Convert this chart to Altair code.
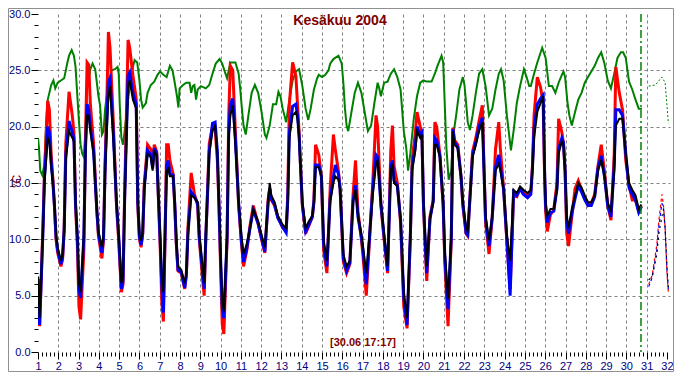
import altair as alt
import pandas as pd

# ---------------- data ----------------
# shared time axis (day of month, fractional) for the three outdoor series
t = [
    1.00, 1.08, 1.24, 1.32, 1.48, 1.56, 1.65, 1.73, 1.81, 1.89, 1.97,
    2.13, 2.21, 2.29, 2.37, 2.53, 2.69, 2.77, 2.85, 2.94,
    3.02, 3.10, 3.26, 3.34, 3.42, 3.50, 3.58, 3.74, 3.90, 3.98,
    4.15, 4.23, 4.31, 4.39, 4.47, 4.55, 4.71, 4.87, 4.98,
    5.11, 5.19, 5.27, 5.44, 5.52, 5.68, 5.84, 5.92,
    6.00, 6.08, 6.16, 6.24, 6.40, 6.56, 6.65, 6.73, 6.85,
    7.02, 7.10, 7.18, 7.26, 7.34, 7.42, 7.50, 7.66, 7.74, 7.82, 7.90,
    8.06, 8.23, 8.31, 8.39, 8.55, 8.71, 8.87, 8.95,
    9.11, 9.19, 9.27, 9.44, 9.60, 9.73, 9.84, 9.92,
    10.00, 10.08, 10.16, 10.32, 10.40, 10.48, 10.60, 10.73, 10.89,
    11.02, 11.13, 11.29, 11.45, 11.61, 11.85,
    12.02, 12.18, 12.34, 12.42, 12.50, 12.66, 12.82,
    13.06, 13.23, 13.31, 13.39, 13.55, 13.71, 13.79, 13.87, 13.95,
    14.03, 14.19, 14.35, 14.52, 14.60, 14.68, 14.84, 14.97,
    15.08, 15.24, 15.40, 15.56, 15.65, 15.81, 15.89,
    16.05, 16.21, 16.37, 16.53, 16.65, 16.77, 16.94,
    17.02, 17.18, 17.34, 17.50, 17.66, 17.74, 17.90,
    18.06, 18.23, 18.39, 18.47, 18.55, 18.71, 18.87,
    19.03, 19.19, 19.35, 19.44, 19.60, 19.68, 19.84, 19.92,
    20.00, 20.08, 20.16, 20.32, 20.48, 20.56, 20.65, 20.81, 20.97,
    21.05, 21.21, 21.37, 21.45, 21.53, 21.69, 21.85, 21.94,
    22.10, 22.18, 22.42, 22.58, 22.74, 22.90,
    23.06, 23.23, 23.39, 23.55, 23.71, 23.79, 23.95,
    24.11, 24.27, 24.44, 24.60, 24.76, 24.92,
    25.13, 25.29, 25.37, 25.45, 25.61, 25.77, 25.90, 25.97,
    26.02, 26.10, 26.26, 26.42, 26.58, 26.66, 26.82, 26.90, 26.98,
    27.06, 27.15, 27.31, 27.47, 27.63, 27.79, 27.95,
    28.11, 28.27, 28.44, 28.60, 28.76, 28.92,
    29.08, 29.24, 29.40, 29.48, 29.65, 29.81, 29.97,
    30.13, 30.29, 30.45, 30.61, 30.74,
]
black = [
    6.7, 3.0, 10.4, 15.0, 19.0, 18.7, 16.4, 15.0, 13.3, 10.4, 9.3,
    8.1, 8.7, 10.7, 17.0, 19.6, 19.0, 18.7, 13.3, 10.4,
    6.1, 5.3, 10.4, 17.6, 21.0, 21.0, 19.6, 17.6, 12.7, 10.7,
    9.3, 10.4, 16.1, 19.6, 22.7, 23.6, 19.0, 13.3, 10.4,
    6.1, 6.7, 13.3, 23.6, 24.1, 22.4, 21.6, 13.3,
    10.4, 9.9, 10.7, 14.4, 17.6, 17.3, 16.1, 17.9, 17.4,
    10.4, 6.7, 5.3, 10.4, 15.9, 16.4, 15.6, 15.6, 13.3, 9.9, 7.6,
    7.3, 6.1, 7.0, 10.4, 13.9, 13.7, 13.3, 10.4,
    7.6, 6.1, 10.4, 17.6, 19.6, 20.1, 17.6, 13.3,
    8.7, 4.7, 3.6, 10.4, 19.0, 21.0, 21.9, 18.4, 13.3,
    10.4, 8.7, 9.6, 11.0, 12.7, 11.6,
    10.4, 9.3, 13.3, 15.0, 13.9, 13.3, 12.1,
    11.3, 11.0, 13.3, 19.0, 21.0, 21.3, 20.7, 19.0, 16.1,
    13.3, 11.0, 11.6, 12.1, 13.3, 16.4, 16.4, 15.6,
    9.9, 8.1, 13.3, 15.0, 15.6, 15.3, 14.4,
    8.7, 7.6, 8.1, 13.3, 14.4, 12.1, 10.4,
    9.3, 7.0, 10.4, 13.9, 16.7, 17.0, 13.3,
    10.4, 7.6, 16.1, 16.7, 15.0, 14.7, 11.9,
    5.3, 3.0, 10.4, 16.1, 17.9, 19.6, 19.0, 19.3,
    13.3, 10.4, 7.6, 11.9, 13.3, 18.4, 18.4, 17.3, 13.3,
    9.0, 4.7, 10.4, 19.6, 18.4, 18.1, 15.6, 13.3,
    11.0, 10.7, 17.3, 18.4, 19.6, 20.4,
    12.1, 9.9, 12.1, 16.1, 16.7, 16.1, 14.4,
    10.4, 8.1, 14.4, 14.1, 14.7, 14.4,
    14.1, 14.4, 16.1, 19.0, 21.3, 22.1, 22.7, 16.1,
    13.3, 12.1, 12.7, 12.7, 14.4, 17.6, 18.7, 18.4, 16.1,
    12.1, 11.0, 12.7, 13.9, 15.0, 14.6, 13.9,
    13.3, 13.3, 13.9, 16.1, 17.0, 15.6,
    13.3, 12.4, 16.1, 20.1, 20.7, 20.7, 17.6,
    15.0, 14.4, 13.9, 12.7, 13.1,
]
red = [
    6.0, 2.3, 11.0, 16.0, 22.3, 21.5, 17.5, 15.5, 13.0, 10.0, 8.8,
    7.6, 8.2, 11.0, 18.5, 23.1, 21.0, 19.5, 13.0, 9.5,
    4.0, 2.9, 9.0, 19.0, 25.7, 25.5, 22.0, 18.5, 12.5, 10.3,
    8.3, 10.0, 17.0, 22.0, 28.4, 27.0, 20.5, 13.0, 9.8,
    5.3, 6.0, 14.0, 27.7, 27.0, 24.5, 22.5, 13.0,
    10.0, 9.3, 10.5, 15.0, 18.4, 18.0, 16.5, 18.4, 17.8,
    9.5, 4.5, 2.7, 10.0, 18.4, 18.4, 17.0, 15.8, 13.0, 9.5, 7.2,
    7.0, 5.6, 6.8, 11.0, 15.9, 14.0, 13.0, 10.0,
    6.5, 5.0, 10.0, 18.5, 20.0, 19.8, 17.0, 13.0,
    7.5, 2.5, 1.6, 10.0, 21.0, 25.4, 25.0, 19.5, 13.0,
    9.8, 7.6, 9.0, 11.2, 13.0, 11.4,
    10.0, 8.8, 13.5, 14.5, 13.5, 13.0, 12.0,
    11.0, 10.8, 14.0, 22.0, 25.7, 24.5, 22.0, 19.5, 16.0,
    13.0, 10.5, 11.2, 12.0, 13.5, 18.4, 17.5, 15.5,
    9.0, 7.0, 14.5, 19.3, 18.0, 16.0, 14.5,
    8.0, 7.0, 7.8, 14.0, 17.0, 12.5, 10.0,
    8.5, 5.0, 10.0, 15.0, 21.0, 20.0, 13.0,
    10.0, 7.0, 18.0, 20.1, 16.5, 15.0, 11.5,
    4.0, 2.1, 10.0, 17.0, 19.5, 21.3, 20.0, 19.5,
    13.0, 9.5, 6.3, 12.0, 13.5, 20.4, 20.0, 17.5, 13.0,
    8.0, 2.3, 10.0, 19.9, 18.8, 18.4, 15.5, 13.0,
    10.5, 10.3, 17.8, 19.0, 20.5, 21.9,
    11.5, 8.7, 12.0, 18.0, 20.4, 18.0, 14.5,
    9.8, 5.6, 14.0, 13.8, 14.5, 14.2,
    13.8, 14.2, 16.5, 21.0, 24.4, 23.5, 22.0, 15.5,
    12.5, 10.7, 12.2, 12.6, 15.0, 20.7, 19.5, 18.5, 16.0,
    10.5, 9.4, 12.0, 14.5, 15.2, 14.4, 13.6,
    13.0, 13.2, 14.0, 16.5, 18.4, 16.0,
    13.0, 11.7, 17.5, 25.3, 23.0, 21.5, 17.0,
    14.8, 13.5, 13.5, 12.5, 13.0,
]
blue = [
    6.5, 2.4, 10.5, 15.5, 20.0, 19.5, 16.8, 15.2, 13.0, 10.2, 9.0,
    7.8, 8.4, 10.8, 17.5, 20.5, 19.5, 19.0, 13.2, 10.2,
    5.5, 4.8, 10.2, 18.0, 22.0, 21.5, 20.0, 17.8, 12.6, 10.5,
    8.8, 10.2, 16.5, 20.5, 24.0, 24.3, 19.5, 13.2, 10.2,
    5.6, 6.3, 13.5, 24.5, 24.8, 23.0, 22.0, 13.2,
    10.2, 9.5, 10.5, 14.6, 17.9, 17.5, 16.3, 18.1, 17.6,
    10.0, 6.0, 3.5, 10.2, 16.5, 17.0, 15.8, 15.7, 13.2, 9.6, 7.3,
    7.1, 5.7, 6.8, 10.5, 14.2, 13.8, 13.2, 10.2,
    7.2, 5.6, 10.2, 17.8, 20.3, 20.4, 17.8, 13.1,
    8.2, 4.0, 3.0, 10.2, 19.5, 22.0, 22.5, 18.8, 13.2,
    10.0, 8.0, 9.2, 11.0, 12.6, 11.4,
    10.1, 8.9, 13.2, 14.5, 13.6, 13.1, 11.9,
    11.1, 10.6, 13.5, 19.5, 21.8, 22.0, 21.0, 19.2, 16.1,
    13.1, 10.7, 11.3, 12.0, 13.3, 16.6, 16.6, 15.6,
    9.5, 7.6, 13.6, 15.5, 16.6, 15.8, 14.5,
    8.3, 7.2, 7.9, 13.4, 14.8, 12.0, 10.2,
    9.0, 6.0, 10.2, 14.5, 17.5, 17.3, 13.2,
    10.2, 7.2, 16.5, 17.0, 15.2, 14.8, 11.8,
    4.8, 2.4, 10.2, 16.4, 18.3, 20.0, 19.3, 19.5,
    13.1, 10.0, 7.0, 11.8, 13.4, 19.0, 18.8, 17.4, 13.2,
    8.5, 3.8, 10.2, 19.8, 18.6, 18.2, 15.6, 13.2,
    10.6, 10.4, 17.5, 18.6, 20.0, 20.8,
    11.8, 9.4, 12.0, 16.4, 17.5, 16.5, 14.4,
    10.0, 5.0, 14.2, 13.9, 14.5, 14.0,
    13.7, 14.0, 16.3, 19.8, 22.0, 22.5, 22.8, 16.0,
    13.0, 11.5, 12.4, 12.5, 14.5, 18.0, 19.0, 18.6, 16.1,
    11.5, 10.5, 12.3, 13.6, 14.8, 14.2, 13.5,
    13.0, 13.0, 13.8, 16.3, 17.4, 15.6,
    13.0, 12.0, 16.5, 21.5, 21.5, 21.0, 17.6,
    14.6, 14.0, 13.5, 12.4, 12.9,
]

# indoor (green) series
green_t = [
    1.00, 1.05, 1.11, 1.21, 1.32, 1.40, 1.48, 1.56, 1.65, 1.76, 1.85, 1.97,
    2.13, 2.29, 2.37, 2.45, 2.53, 2.66, 2.77, 2.85, 2.94,
    3.02, 3.10, 3.18, 3.26, 3.34, 3.42, 3.58, 3.69, 3.82, 3.90, 3.98,
    4.06, 4.15, 4.23, 4.31, 4.47, 4.63, 4.79, 4.92, 4.98,
    5.03, 5.11, 5.19, 5.27, 5.44, 5.60, 5.76, 5.89,
    6.00, 6.08, 6.16, 6.32, 6.40, 6.56, 6.73, 6.89,
    7.02, 7.18, 7.34, 7.50, 7.63, 7.74, 7.85, 7.92, 7.98,
    8.15, 8.31, 8.47, 8.55, 8.63, 8.71, 8.79, 8.87,
    9.03, 9.27, 9.44, 9.60, 9.76, 9.95,
    10.08, 10.24, 10.32, 10.48, 10.73, 10.89, 10.97,
    11.05, 11.13, 11.24, 11.37, 11.53, 11.69, 11.85,
    12.02, 12.18, 12.26, 12.42, 12.58, 12.74, 12.85, 12.95,
    13.06, 13.23, 13.39, 13.55, 13.71, 13.87,
    14.03, 14.19, 14.32, 14.44, 14.60, 14.76, 14.84,
    15.00, 15.16, 15.32, 15.40, 15.56, 15.81, 15.97,
    16.05, 16.13, 16.21, 16.29, 16.45, 16.61, 16.77, 16.94,
    17.10, 17.26, 17.42, 17.58, 17.74, 17.82, 17.90,
    18.06, 18.23, 18.39, 18.55, 18.71, 18.87,
    19.03, 19.15, 19.24, 19.35, 19.52, 19.68, 19.84,
    20.00, 20.16, 20.40, 20.56, 20.69, 20.89, 20.97,
    21.05, 21.13, 21.24, 21.37, 21.45, 21.61, 21.77, 21.94,
    22.02, 22.10, 22.18, 22.29, 22.42, 22.58, 22.74, 22.90,
    23.06, 23.23, 23.39, 23.55, 23.71, 23.82, 23.95,
    24.11, 24.31, 24.44, 24.60, 24.76, 24.95,
    25.08, 25.21, 25.29, 25.45, 25.61, 25.85,
    26.02, 26.18, 26.34, 26.50, 26.66, 26.82, 26.90, 26.98,
    27.10, 27.19, 27.31, 27.47, 27.63, 27.79, 27.95,
    28.11, 28.27, 28.44, 28.60, 28.76, 28.92,
    29.08, 29.24, 29.40, 29.56, 29.73, 29.84, 29.97,
    30.13, 30.29, 30.45, 30.61, 30.77,
]
green = [
    19.0, 18.1, 16.1, 15.7, 16.7, 20.4, 22.4, 23.0, 23.7, 24.1, 23.4, 23.9,
    24.1, 24.3, 25.0, 25.7, 26.3, 26.8, 26.3, 25.3, 22.7,
    20.4, 18.4, 17.6, 17.3, 19.6, 23.3, 25.1, 25.6, 25.1, 23.9, 22.7,
    21.9, 19.3, 19.6, 21.6, 23.9, 25.0, 25.1, 25.3, 24.7,
    21.9, 19.0, 18.4, 19.6, 22.4, 24.7, 25.9, 25.7,
    24.1, 22.4, 21.7, 22.1, 23.0, 23.7, 24.0, 24.6,
    24.9, 24.6, 24.4, 25.4, 25.0, 23.9, 22.7, 21.7, 23.4,
    23.7, 23.9, 23.9, 23.0, 23.6, 23.7, 22.4, 23.3,
    23.6, 23.4, 23.7, 24.7, 25.6, 26.0,
    25.6, 24.7, 24.3, 25.7, 25.7, 24.7, 23.3,
    21.6, 20.1, 19.3, 21.0, 23.0, 23.7, 23.0,
    21.3, 19.3, 19.0, 20.1, 22.0, 22.0, 23.1, 22.7,
    21.6, 20.4, 22.4, 24.1, 24.9, 25.1,
    23.6, 21.6, 20.6, 21.6, 23.3, 24.3, 24.6,
    24.4, 24.6, 25.0, 25.6, 26.0, 26.3, 25.6,
    23.9, 21.6, 20.1, 19.6, 21.3, 23.0, 23.9, 23.0,
    21.3, 19.6, 20.1, 22.1, 23.9, 23.4, 22.7,
    23.9, 24.0, 24.7, 25.1, 24.4, 23.3,
    19.6, 18.1, 16.1, 17.6, 20.7, 22.7, 23.9,
    24.1, 24.0, 24.0, 24.7, 25.4, 26.3, 25.7,
    21.9, 18.1, 15.3, 16.1, 19.0, 21.0, 23.3, 24.4,
    23.7, 22.1, 20.4, 19.7, 21.0, 23.0, 24.7, 25.1,
    23.6, 21.0, 21.6, 23.3, 24.7, 25.1, 24.1,
    21.0, 17.9, 19.6, 22.1, 23.6, 25.1,
    24.4, 23.6, 23.6, 24.7, 25.7, 27.0,
    26.1, 23.6, 23.6, 23.0, 23.9, 24.6, 24.9, 24.4,
    22.1, 21.0, 20.1, 21.3, 22.4, 23.0, 23.9,
    24.4, 24.9, 25.4, 26.1, 26.6, 25.6,
    24.1, 23.4, 24.7, 26.1, 26.6, 26.6, 26.1,
    24.0, 23.3, 22.4, 21.6, 21.6,
]

# dotted part after the current time
fc_t = [31.10, 31.27, 31.50, 31.59, 31.75, 31.83, 31.91, 32.00, 32.07]
fc_black = [6.4, 6.7, 8.7, 10.4, 12.0, 12.7, 11.0, 7.6, 5.6]
fc_red = [6.0, 6.8, 9.5, 11.5, 14.0, 13.0, 11.0, 7.0, 5.3]
fc_blue = [5.8, 6.6, 9.0, 11.0, 13.2, 12.8, 11.0, 7.3, 5.5]
fcg_t = [31.10, 31.43, 31.75, 31.91, 32.00, 32.07]
fc_green = [23.6, 23.7, 24.4, 23.9, 21.9, 20.3]

now_day = [30.72]
title_text = ["Kesäkuu 2004"]
stamp_text = ["[30.06 17:17]"]

day_ticks = list(range(1, 33))
grid_days = list(range(2, 32))
minor_days = [d + k / 5 for d in range(1, 32) for k in range(1, 5)]
temp_ticks = [0, 5, 10, 15, 20, 25, 30]
grid_temps = [5, 10, 15, 20, 25]
minor_temps = [v for v in range(0, 31) if v % 5]

# ---------------- chart ----------------
W, H = 632, 338
PAD_L, PAD_T, PAD_R, PAD_B = 30, 6, 4, 20
FONT = "Liberation Sans"
NAVY = "#000080"
MAROON = "#800000"

xs = alt.Scale(domain=[1, 32.15], nice=False, zero=False)
ys = alt.Scale(domain=[0, 30], nice=False, zero=False)

ax_grid_x = alt.Axis(values=grid_days, grid=True, gridColor="#808080", gridDash=[3, 3],
                     gridWidth=1, ticks=False, labels=False, domain=False, title=None,
                     orient="bottom")
ax_grid_y = alt.Axis(values=grid_temps, grid=True, gridColor="#808080", gridDash=[3, 3],
                     gridWidth=1, ticks=False, labels=False, domain=False, title=None,
                     orient="left")
ax_major_x = alt.Axis(values=day_ticks, grid=False, tickSize=7, tickColor="#000000",
                      tickWidth=1, labelColor=NAVY, labelFont=FONT, labelFontSize=11,
                      labelPadding=1, labelFlush=False, labelOverlap=False, labelBound=False,
                      domain=False, title=None, format="d", orient="bottom")
ax_major_y = alt.Axis(values=temp_ticks, grid=False, tickSize=7, tickColor="#000000",
                      tickWidth=1, labelColor=NAVY, labelFont=FONT, labelFontSize=11,
                      labelPadding=1, labelOverlap=False, domain=False, format=".1f",
                      orient="left", title="°C", titleColor=MAROON, titleFont=FONT,
                      titleFontSize=12, titleFontWeight="normal", titleX=-22, titleY=167,
                      titleAlign="center", titleBaseline="middle", titleAngle=270)
ax_minor_x = alt.Axis(values=minor_days, grid=False, tickSize=4, tickColor="#000000",
                      labels=False, domain=False, title=None, orient="bottom")
ax_minor_y = alt.Axis(values=minor_temps, grid=False, tickSize=4, tickColor="#000000",
                      labels=False, domain=False, title=None, orient="left")


def series(times, values, color, width, xaxis, yaxis, dash=None):
    df = pd.DataFrame({"t": times, "v": values})
    kw = dict(color=color, strokeWidth=width, clip=True)
    if dash is not None:
        kw["strokeDash"] = dash
    return alt.Chart(df).mark_line(**kw).encode(
        x=alt.X("t:Q", scale=xs, axis=xaxis),
        y=alt.Y("v:Q", scale=ys, axis=yaxis),
    )


frame = alt.Chart(pd.DataFrame({"a": [0]})).mark_rect(
    fillOpacity=0, stroke="#909090", strokeWidth=1
).encode(x=alt.value(-PAD_L + 0.5), x2=alt.value(W + PAD_R - 0.5),
         y=alt.value(-PAD_T + 0.5), y2=alt.value(H + PAD_B - 0.5))

green_line = series(green_t, green, "#008000", 2, ax_grid_x, ax_grid_y)
red_line = series(t, red, "#FF0000", 3, ax_major_x, ax_major_y)
blue_line = series(t, blue, "#0000FF", 3, ax_minor_x, ax_minor_y)
black_line = series(t, black, "#000000", 2, None, None)

fc_green_line = series(fcg_t, fc_green, "#008000", 1, None, None, dash=[2, 2])
fc_red_line = series(fc_t, fc_red, "#FF0000", 1.2, None, None, dash=[3, 3])
fc_blue_line = series(fc_t, fc_blue, "#0000FF", 1.2, None, None, dash=[3, 3])
fc_black_line = series(fc_t, fc_black, "#000000", 1.2, None, None, dash=[2, 4])

now_rule = alt.Chart(pd.DataFrame({"d": now_day})).mark_rule(
    color="#008000", strokeWidth=1.5, strokeDash=[8, 3, 2, 3]
).encode(x=alt.X("d:Q", scale=xs, axis=None))

title = alt.Chart(pd.DataFrame({"s": title_text})).mark_text(
    font=FONT, fontSize=14, fontWeight="bold", color=MAROON, align="center", baseline="middle"
).encode(text="s:N", x=alt.value(302), y=alt.value(7))

stamp = alt.Chart(pd.DataFrame({"s": stamp_text})).mark_text(
    font=FONT, fontSize=11, fontWeight="bold", color=MAROON, align="center", baseline="middle"
).encode(text="s:N", x=alt.value(325), y=alt.value(329))

chart = alt.layer(
    frame, green_line, red_line, blue_line, black_line,
    fc_green_line, fc_red_line, fc_blue_line, fc_black_line,
    now_rule, title, stamp,
).resolve_scale(x="shared", y="shared").resolve_axis(
    x="independent", y="independent"
).properties(
    width=W, height=H,
    padding={"left": PAD_L, "top": PAD_T, "right": PAD_R, "bottom": PAD_B},
    autosize=alt.AutoSizeParams(type="none"),
    background="#FFFFFF",
).configure_view(strokeWidth=0)

chart.save("out.html", embed_options={"renderer": "svg", "actions": False})
